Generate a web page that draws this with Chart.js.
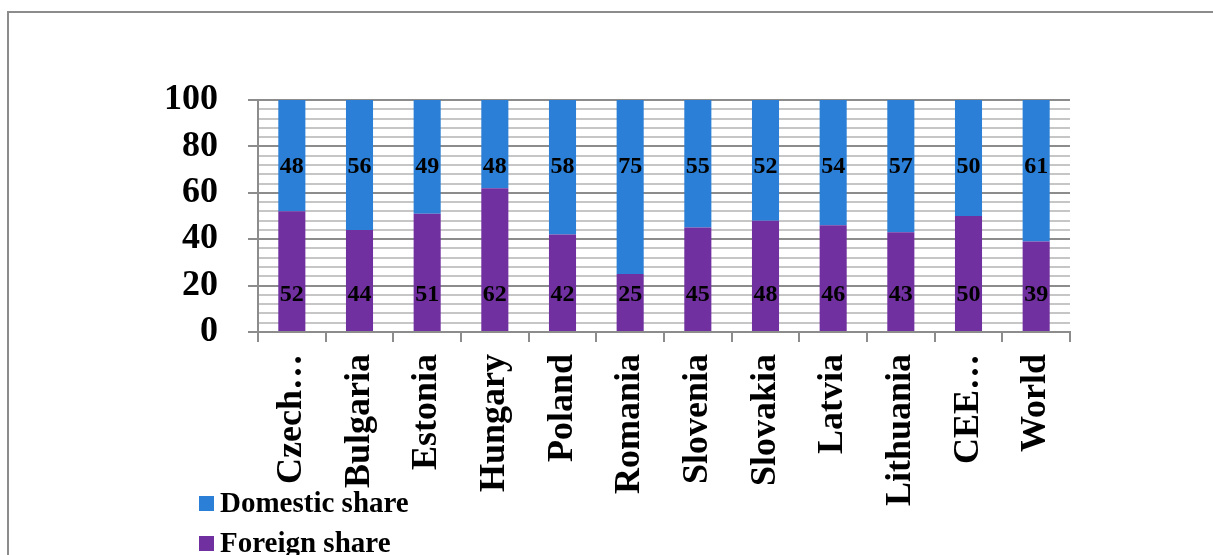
<!DOCTYPE html>
<html>
<head>
<meta charset="utf-8">
<title>Domestic and foreign share</title>
<script src="https://cdn.jsdelivr.net/npm/chart.js@4.4.1/dist/chart.umd.min.js"></script>
<style>
  html, body { margin: 0; padding: 0; background: #fff; }
  body {
    width: 1213px; height: 555px; position: relative; overflow: hidden;
    font-family: "Liberation Serif", "Times New Roman", serif;
  }
  .frame {
    position: absolute; left: 7px; top: 11px; width: 1400px; height: 800px;
    border-left: 2px solid #8c8c8c; border-top: 2px solid #8c8c8c;
  }
  #fdi-chart { position: absolute; left: 0; top: 0; }
  .legend-item {
    position: absolute; left: 199px; font-weight: bold; font-size: 29px;
    line-height: 32px; white-space: nowrap;
  }
  .legend-item i {
    position: absolute; left: 0; top: 10px; width: 15px; height: 15px;
  }
  .legend-item b { margin-left: 21px; }
</style>
</head>
<body>
<div class="frame"></div>
<canvas id="fdi-chart" width="1213" height="555"></canvas>
<div class="legend-item" style="top:486px"><i style="background:#2b7fd6"></i><b>Domestic share</b></div>
<div class="legend-item" style="top:526px"><i style="background:#7030a0"></i><b>Foreign share</b></div>

<script>
// categories and shares (%)
const countries = ['Czech…', 'Bulgaria', 'Estonia', 'Hungary', 'Poland', 'Romania',
  'Slovenia', 'Slovakia', 'Latvia', 'Lithuania', 'CEE…', 'World'];
const foreignShare = [52, 44, 51, 62, 42, 25, 45, 48, 46, 43, 50, 39];
const domesticShare = [48, 56, 49, 48, 58, 75, 55, 52, 54, 57, 50, 61];

const serif = '"Liberation Serif", "Times New Roman", serif';
const axisGrey = '#8c8c8c';
const isMajor = v => v % 20 === 0;

// write each segment's value inside its bar
const valueLabels = {
  id: 'valueLabels',
  afterDatasetsDraw(chart) {
    const { ctx } = chart;
    const y = chart.scales.y;
    ctx.save();
    ctx.font = 'bold 24px ' + serif;
    ctx.fillStyle = '#000';
    ctx.textAlign = 'center';
    ctx.textBaseline = 'middle';
    chart.data.datasets.forEach((ds, i) => {
      chart.getDatasetMeta(i).data.forEach((bar, j) => {
        ctx.fillText(ds.data[j], bar.x, y.getPixelForValue(ds.labelAt));
      });
    });
    ctx.restore();
  }
};

new Chart(document.getElementById('fdi-chart'), {
  type: 'bar',
  data: {
    labels: countries,
    datasets: [
      { label: 'Foreign share', data: foreignShare, backgroundColor: '#7030a0', labelAt: 16 },
      { label: 'Domestic share', data: domesticShare, backgroundColor: '#2b7fd6', labelAt: 71 }
    ]
  },
  options: {
    responsive: false,
    animation: false,
    layout: { padding: { left: 150, right: 143, top: 100, bottom: 23 } },
    datasets: { bar: { categoryPercentage: 1, barPercentage: 0.4 } },
    plugins: { legend: { display: false }, tooltip: { enabled: false } },
    scales: {
      x: {
        stacked: true,
        afterFit: s => { s.height = 200; },
        border: { color: axisGrey, width: 2 },
        grid: { offset: true, drawOnChartArea: false, tickLength: 10, color: axisGrey, lineWidth: 2 },
        ticks: {
          autoSkip: false, minRotation: 90, maxRotation: 90, padding: 12, color: '#000',
          font: { family: serif, size: 36, weight: 'bold' }
        }
      },
      y: {
        stacked: true,
        min: 0,
        max: 100,
        afterFit: s => { s.width = 108; },
        border: { color: axisGrey, width: 2 },
        grid: {
          color: c => isMajor(c.tick.value) ? axisGrey : '#c6c6c6',
          lineWidth: 2,
          tickColor: c => isMajor(c.tick.value) ? axisGrey : 'rgba(0,0,0,0)',
          tickLength: 10
        },
        ticks: {
          stepSize: 4, maxTicksLimit: 40, autoSkip: false, padding: 30, color: '#000',
          font: { family: serif, size: 36, weight: 'bold' },
          callback: v => isMajor(v) ? v : ''
        }
      }
    }
  },
  plugins: [valueLabels]
});
</script>
</body>
</html>
